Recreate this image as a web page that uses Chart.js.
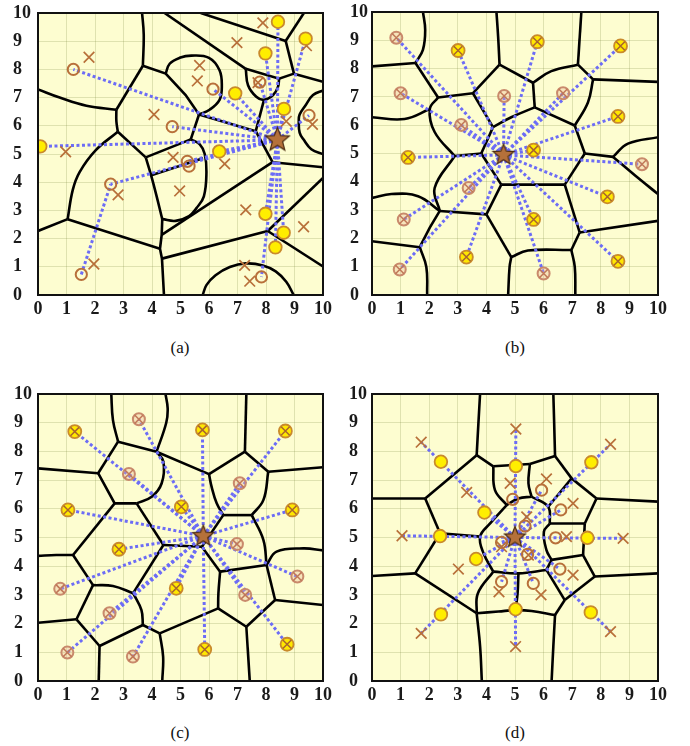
<!DOCTYPE html>
<html>
<head>
<meta charset="utf-8">
<script src="https://cdn.jsdelivr.net/npm/chart.js@4.4.0/dist/chart.umd.min.js"></script>
<style>
  body { margin: 0; background: #fff; width: 690px; height: 746px; position: relative; overflow: hidden; }
  .panel { position: absolute; }
  .caption { position: absolute; font-family: 'Liberation Serif', 'Times New Roman', serif; font-size: 17px; color: #111; transform: translateX(-50%); }
</style>
</head>
<body>
<div class="panel" style="left:13px;top:0;width:325px;height:322px"><canvas id="chartA"></canvas></div>
<div class="panel" style="left:350px;top:0;width:340px;height:322px"><canvas id="chartB"></canvas></div>
<div class="panel" style="left:14px;top:380px;width:324px;height:328px"><canvas id="chartC"></canvas></div>
<div class="panel" style="left:349px;top:380px;width:341px;height:328px"><canvas id="chartD"></canvas></div>
<div class="caption" style="left:180px;top:338px">(a)</div>
<div class="caption" style="left:515px;top:338px">(b)</div>
<div class="caption" style="left:180px;top:723px">(c)</div>
<div class="caption" style="left:515px;top:723px">(d)</div>
<script>
// ---------- panel (a) ----------
const aStar = [8.4, 5.5];
const aYellow = [[0.08,5.27],[8.42,9.69],[9.39,9.09],[7.98,8.57],[6.92,7.15],[8.63,6.60],[6.36,5.09],[7.98,2.88],[8.62,2.21],[8.33,1.69]];
const aHollow = [[1.24,8.0],[6.14,7.30],[7.78,7.55],[4.71,5.97],[5.24,4.74],[5.30,4.57],[2.55,3.93],[9.51,6.37],[1.52,0.73],[7.84,0.64]];
const aCross = [[1.79,8.43],[0.97,5.08],[4.07,6.40],[5.67,8.14],[5.59,7.59],[6.98,8.95],[7.89,9.65],[7.72,7.53],[9.42,8.84],
  [8.71,6.16],[9.63,6.05],[4.74,4.88],[6.55,4.65],[2.81,3.55],[4.97,3.69],[7.29,3.02],[9.32,2.42],[1.96,1.10],[7.25,1.05],[7.43,0.49]];
const aRays = [[0.08,5.27],[8.42,9.69],[9.39,9.09],[7.98,8.57],[6.92,7.15],[8.63,6.60],[6.36,5.09],[7.98,2.88],[8.62,2.21],[8.33,1.69],
  [1.24,8.0],[6.14,7.30],[7.78,7.55],[4.71,5.97],[5.24,4.74],[2.55,3.93],[9.51,6.37],[7.84,0.64]];
const aChain = [[1.52,0.73],[2.55,3.93]];
const aCurves = [
  [[0,7.29],[0.76,7.0],[1.70,6.71],[2.75,6.57]],
  [[3.65,10.02],[3.71,9.24],[3.68,8.13]],
  [[2.75,6.57],[2.75,6.16],[2.80,5.79]],
  [[2.80,5.79],[2.02,5.13],[1.46,4.36],[1.22,3.73],[1.04,2.69]],
  [[3.78,4.88],[3.95,4.31],[4.15,3.55],[4.36,2.69]],
  [[4.48,7.85],[4.62,8.20],[4.97,8.41],[5.38,8.49],[6.0,8.41],[6.37,7.97],[6.45,7.40],[6.37,6.92],[6.02,6.57],[5.65,6.40]],
  [[5.36,5.52],[5.67,5.35],[5.85,5.0],[5.91,4.36],[5.82,3.5],[5.56,3.08],[5.30,2.80],[4.83,2.63],[4.36,2.69]],
  [[7.29,8.02],[7.37,7.44],[7.66,7.03],[7.93,6.92],[8.25,7.09],[8.42,7.38],[8.46,7.67]],
  [[10.02,7.26],[9.65,7.09],[9.39,6.73],[9.18,6.40],[9.15,6.17],[9.18,5.76],[9.32,5.51],[9.59,5.17],[10.02,4.99]],
  [[5.78,0],[5.91,0.35],[6.23,0.70],[6.73,0.99],[7.29,1.12],[7.89,1.05],[8.34,0.84],[8.71,0.47],[8.97,0]]
];
const aLines = [
  [[3.68,8.13],[2.75,6.57]],
  [[2.80,5.79],[3.78,4.88]],
  [[3.78,4.88],[5.36,5.52]],
  [[3.95,4.24],[5.79,4.85]],
  [[5.36,5.52],[5.65,6.40]],
  [[3.68,8.13],[4.48,7.85],[5.18,7.09],[5.65,6.40]],
  [[4.36,2.69],[4.34,2.13],[4.28,1.64],[4.35,1.29],[4.42,0]],
  [[4.34,2.13],[8.23,4.71]],
  [[4.35,1.29],[8.06,2.27]],
  [[8.06,2.27],[10,4.15]],
  [[8.06,2.27],[10,1.01]],
  [[8.23,4.71],[10,4.53]],
  [[8.23,4.71],[7.64,5.81]],
  [[5.65,6.40],[7.64,5.81]],
  [[7.64,5.81],[7.93,6.92]],
  [[7.29,8.02],[8.46,7.67],[8.98,7.85]],
  [[8.98,7.85],[10,7.56]],
  [[8.98,7.85],[8.69,9.01]],
  [[8.69,9.01],[9.33,10]],
  [[8.69,9.01],[5.71,10]],
  [[4.44,10],[7.29,8.02]],
  [[0,2.27],[1.04,2.69]],
  [[1.04,2.69],[4.28,1.64]]
];

// ---------- panel (b) ----------
const bStar = [4.6, 4.95];
const bYellow = [[3.01,8.64],[5.78,8.95],[8.69,8.80],[8.60,6.31],[1.26,4.86],[5.65,5.12],[8.23,3.47],[5.65,2.67],[3.30,1.34],[8.60,1.19]];
const bHollow = [[0.85,9.09],[1.0,7.13],[4.62,7.03],[6.68,7.13],[3.12,6.01],[9.44,4.62],[3.38,3.78],[1.11,2.67],[0.97,0.90],[6.0,0.76]];
const bCurves = [
  [[1.78,10.02],[1.86,9.36],[1.78,8.66],[1.52,8.2]],
  [[4.35,10.02],[4.41,9.13],[4.46,8.14]],
  [[5.63,7.5],[6.27,7.91],[7.20,8.14]],
  [[7.73,7.62],[7.55,6.80],[7.09,5.99]],
  [[4.23,5.93],[4.87,6.28],[5.69,6.63]],
  [[2.31,6.98],[2.02,6.57],[2.19,5.76],[2.89,4.91]],
  [[0,6.28],[1.14,6.22],[2.02,6.57]],
  [[2.89,4.91],[2.19,3.78],[2.37,2.97]],
  [[4.87,1.34],[4.81,0.99],[4.76,0]],
  [[4.87,1.34],[5.45,1.57],[6.97,1.59]],
  [[6.97,1.59],[7.09,0.99],[7.11,0]],
  [[8.43,4.88],[8.95,5.35],[10.02,5.58]],
  [[8.43,4.88],[9.18,4.24],[10.02,3.55]],
  [[0,3.43],[0.68,3.57],[1.61,3.49],[2.37,2.97]],
  [[1.67,1.69],[1.90,0.99],[1.93,0]]
];
const bLines = [
  [[0,8.08],[1.52,8.2]], [[1.52,8.2],[2.31,6.98]], [[2.31,6.98],[3.53,7.13]], [[3.53,7.13],[4.23,5.93]],
  [[3.53,7.13],[4.46,8.14]], [[4.46,8.14],[5.63,7.5]], [[5.63,7.5],[5.69,6.63]], [[7.20,8.14],[7.32,10]],
  [[7.20,8.14],[7.73,7.62]], [[7.73,7.62],[10,7.53]], [[5.69,6.63],[7.09,5.99]], [[7.09,5.99],[7.44,5.0]],
  [[7.44,5.0],[8.43,4.88]], [[7.44,5.0],[6.74,3.90]], [[6.74,3.90],[4.52,3.90]], [[4.52,3.90],[3.82,5.0]],
  [[3.82,5.0],[4.23,5.93]], [[3.82,5.0],[2.89,4.91]], [[4.52,3.90],[4.0,2.85]], [[2.37,2.97],[4.0,2.85]],
  [[4.0,2.85],[4.87,1.34]], [[6.97,1.59],[7.26,2.21]], [[7.26,2.21],[6.74,3.90]], [[7.26,2.21],[10,2.62]],
  [[0,1.90],[1.67,1.69]], [[1.67,1.69],[2.02,2.38],[2.37,2.97]]
];

// ---------- panel (c) ----------
const cStar = [5.8, 5.05];
const cYellow = [[1.29,8.69],[5.77,8.75],[8.68,8.71],[5.03,6.07],[1.05,5.96],[8.92,5.96],[2.84,4.59],[4.85,3.23],[8.74,1.28],[5.85,1.10]];
const cHollow = [[3.54,9.12],[3.19,7.21],[7.08,6.89],[6.98,4.77],[9.10,3.64],[0.78,3.21],[7.27,3.0],[2.51,2.36],[1.03,0.99],[3.33,0.85]];
const cCurves = [
  [[2.57,10.02],[2.63,9.09],[2.81,8.34]],
  [[4.47,10.02],[4.55,9.5],[4.50,9.0],[4.16,7.99]],
  [[4.16,7.99],[4.40,7.64],[4.34,6.89],[3.99,6.42],[3.46,6.19]],
  [[1.93,3.34],[2.63,3.31],[3.34,3.06]],
  [[3.34,3.06],[3.63,2.47],[3.68,1.95]],
  [[0,4.36],[0.64,4.39],[1.23,4.39]],
  [[4.27,1.66],[4.39,0.85],[4.36,0]],
  [[6.39,3.81],[6.33,3.05],[6.32,2.53]],
  [[6.0,7.21],[6.09,6.77],[6.27,6.19],[6.50,5.78]],
  [[8.08,7.29],[7.91,6.31],[7.50,5.78]],
  [[7.50,5.78],[7.91,4.91],[8.02,4.04]],
  [[8.02,4.04],[8.37,4.51],[9.31,4.62],[10.02,4.55]]
];
const cLines = [
  [[0,7.41],[2.11,7.24]], [[2.11,7.24],[2.81,8.34]], [[2.81,8.34],[4.16,7.99],[6.0,7.21]],
  [[2.11,7.24],[2.69,6.19],[3.46,6.19]], [[3.46,6.19],[4.40,4.74]], [[4.40,4.74],[5.75,4.68]],
  [[4.40,4.74],[3.34,3.06]], [[2.69,6.19],[1.23,4.39]], [[1.23,4.39],[1.93,3.34]], [[1.93,3.34],[1.35,2.15]],
  [[0,2.03],[1.35,2.15]], [[1.35,2.15],[2.16,1.22]], [[2.16,1.22],[2.13,0]], [[2.16,1.22],[3.68,1.95]],
  [[3.68,1.95],[4.27,1.66]], [[4.27,1.66],[6.32,2.53]], [[6.39,3.81],[8.02,4.04]], [[6.39,3.81],[5.75,4.68]],
  [[6.50,5.78],[5.75,4.68]], [[6.0,7.21],[7.26,7.99]], [[7.26,7.99],[7.31,10]], [[7.26,7.99],[8.08,7.29]],
  [[8.08,7.29],[10,7.45]], [[7.50,5.78],[6.50,5.78]], [[8.02,4.04],[8.32,2.82]], [[8.32,2.82],[10,2.65]],
  [[8.32,2.82],[7.31,1.89]], [[7.31,1.89],[7.43,0]], [[7.31,1.89],[6.32,2.53]]
];

// ---------- panel (d) ----------
const dStar = [5.0, 5.0];
const dYellow = [[2.41,7.64],[5.03,7.49],[7.67,7.62],[3.93,5.87],[2.38,5.05],[7.53,4.99],[3.64,4.25],[2.41,2.32],[5.02,2.50],[7.65,2.39]];
const dOuterCross = [[1.72,8.32],[5.03,8.78],[8.34,8.25],[1.05,5.06],[8.78,4.97],[1.72,1.66],[5.02,1.20],[8.34,1.72]];
const dInnerCross = [[4.83,6.89],[6.10,7.04],[3.31,6.57],[7.03,6.19],[5.41,5.72],[6.80,5.03],[4.53,4.68],[5.47,4.39],
  [3.02,3.90],[7.03,3.69],[4.44,3.11],[5.91,3.0]];
const dHollow = [[4.92,6.33],[5.93,6.65],[6.60,5.96],[5.35,5.40],[6.42,4.99],[4.53,4.83],[5.44,4.41],[6.57,3.90],[4.53,3.46],[5.64,3.40]];
const dRays = [[1.72,8.32],[5.03,8.78],[8.34,8.25],[1.05,5.06],[8.78,4.97],[1.72,1.66],[5.02,1.20],[8.34,1.72],
  [3.93,5.87],[3.64,4.25],[5.93,6.65],[6.60,5.96],[6.57,3.90],[4.53,3.46],[5.64,3.40],[4.53,4.83]];
const dCurves = [
  [[3.78,10.02],[3.72,8.97],[3.66,7.87]],
  [[3.66,2.36],[3.78,1.20],[3.84,0]],
  [[3.66,2.36],[4.42,2.42],[5.02,2.47],[5.58,2.44],[6.40,2.30]],
  [[6.40,2.30],[6.34,1.20],[6.28,0]],
  [[6.40,7.84],[6.37,8.97],[6.34,10.02]],
  [[4.24,7.48],[4.30,6.65],[4.71,6.13]],
  [[5.52,7.56],[5.47,6.89],[5.58,6.42]],
  [[4.71,6.13],[5.12,6.36],[5.58,6.42]],
  [[5.58,6.42],[6.16,6.07],[6.22,5.49]],
  [[6.22,5.49],[6.01,5.20],[6.10,4.56],[6.28,4.22]],
  [[6.10,3.87],[5.12,3.75],[4.24,3.81]],
  [[5.12,3.75],[5.09,3.05],[5.02,2.47]],
  [[4.24,3.81],[3.70,3.05],[3.66,2.36]],
  [[4.24,3.81],[3.90,4.45],[3.78,5.03],[4.13,5.49],[4.71,6.13]]
];
const dLines = [
  [[0,6.36],[1.86,6.36]], [[1.86,6.36],[3.66,7.87]], [[1.86,6.36],[2.38,5.15]], [[2.38,5.15],[1.51,3.75]],
  [[0,3.66],[1.51,3.75]], [[1.51,3.75],[3.66,2.36]], [[6.40,2.30],[6.74,2.82]], [[6.74,2.82],[7.79,3.64]],
  [[7.79,3.64],[10,3.75]], [[7.79,3.64],[7.38,4.39]], [[7.38,4.39],[7.44,5.49]], [[7.44,5.49],[7.85,6.36]],
  [[7.85,6.36],[10,6.25]], [[7.85,6.36],[6.98,7.06]], [[6.98,7.06],[6.40,7.84]], [[3.66,7.87],[4.24,7.48]],
  [[4.24,7.48],[5.52,7.56]], [[5.52,7.56],[6.40,7.84]], [[6.98,7.06],[6.16,6.07]], [[6.22,5.49],[7.44,5.49]],
  [[6.28,4.22],[7.38,4.39]], [[6.28,4.22],[6.10,3.87]], [[6.10,3.87],[6.74,2.82]], [[2.38,5.15],[3.78,5.03]]
];

const ticks = [0,1,2,3,4,5,6,7,8,9,10];

const brown = '#b8703a';
const dashBlue = '#6c6cf6';
const panelBg = '#fdfdd0';
const gridColor = 'rgba(120,130,60,0.22)';

function toXY(list) {
  return list.map(p => ({ x: p[0], y: p[1] }));
}

function makeStar(r) {
  const c = document.createElement('canvas');
  const s = Math.ceil(r * 2 + 4);
  c.width = s;
  c.height = s;
  const g = c.getContext('2d');
  g.beginPath();
  for (let i = 0; i < 10; i++) {
    const rad = i % 2 === 0 ? r : r * 0.43;
    const a = -Math.PI / 2 + i * Math.PI / 5;
    const px = s / 2 + rad * Math.cos(a);
    const py = s / 2 + rad * Math.sin(a);
    if (i === 0) g.moveTo(px, py); else g.lineTo(px, py);
  }
  g.closePath();
  g.fillStyle = '#b5713a';
  g.fill();
  g.lineWidth = 1.2;
  g.strokeStyle = '#4a2a10';
  g.stroke();
  return c;
}

const framePlugin = {
  id: 'panelFrame',
  beforeDraw(chart) {
    const a = chart.chartArea, ctx = chart.ctx;
    ctx.save();
    ctx.fillStyle = panelBg;
    ctx.fillRect(a.left, a.top, a.right - a.left, a.bottom - a.top);
    ctx.restore();
  },
  afterDraw(chart) {
    const a = chart.chartArea, ctx = chart.ctx;
    ctx.save();
    ctx.strokeStyle = '#111';
    ctx.lineWidth = 2;
    ctx.strokeRect(a.left, a.top, a.right - a.left, a.bottom - a.top);
    ctx.restore();
  }
};

function edgeSet(list, tension) {
  return { data: toXY(list), showLine: true, borderColor: '#000', borderWidth: 2.6, pointRadius: 0, tension: tension, order: 40 };
}

function dashSet(list) {
  return { data: toXY(list), showLine: true, borderColor: dashBlue, borderWidth: 3, borderDash: [3, 2.5], pointRadius: 0, order: 30 };
}

function markSet(list, style, order) {
  return Object.assign({ data: toXY(list), showLine: false, order: order }, style);
}

const yellowDot = { pointStyle: 'circle', pointRadius: 6.3, pointBackgroundColor: '#ffee00', pointBorderColor: '#c98a2c', pointBorderWidth: 1.8 };
const hollowDot = { pointStyle: 'circle', pointRadius: 5.6, pointBackgroundColor: 'rgba(0,0,0,0)', pointBorderColor: brown, pointBorderWidth: 2 };
const crossMark = { pointStyle: 'crossRot', pointRadius: 7.5, pointBorderColor: brown, pointBorderWidth: 1.7 };
const ringYellow = { pointStyle: 'circle', pointRadius: 6.5, pointBackgroundColor: '#ffe800', pointBorderColor: '#c98a2c', pointBorderWidth: 1.8 };
const ringPink = { pointStyle: 'circle', pointRadius: 6, pointBackgroundColor: 'rgba(235,180,150,0.35)', pointBorderColor: '#c98a6c', pointBorderWidth: 2 };
const innerCrossBrown = { pointStyle: 'crossRot', pointRadius: 6, pointBorderColor: '#a8642e', pointBorderWidth: 1.5 };
const innerCrossPink = { pointStyle: 'crossRot', pointRadius: 6, pointBorderColor: '#c07858', pointBorderWidth: 1.5 };

function makeChart(id, box, datasets) {
  const tickFont = { family: "'Liberation Serif', 'Times New Roman', serif", size: 18, weight: 'bold' };
  return new Chart(document.getElementById(id), {
    type: 'scatter',
    data: { datasets: datasets },
    options: {
      responsive: true,
      maintainAspectRatio: false,
      animation: false,
      events: [],
      layout: { padding: { top: box.padTop, right: box.padRight, left: 0, bottom: 0 } },
      plugins: { legend: { display: false }, tooltip: { enabled: false } },
      scales: {
        x: {
          type: 'linear', min: 0, max: 10,
          afterBuildTicks: s => { s.ticks = ticks.map(v => ({ value: v })); },
          ticks: { font: tickFont, color: '#1a1a1a', padding: 4 },
          grid: { color: gridColor, drawTicks: false },
          border: { display: false },
          afterFit: s => { s.height = box.xh; s.paddingLeft = 0; s.paddingRight = 0; }
        },
        y: {
          type: 'linear', min: 0, max: 10,
          afterBuildTicks: s => { s.ticks = ticks.map(v => ({ value: v })); },
          ticks: { font: tickFont, color: '#1a1a1a', padding: 2, crossAlign: 'far' },
          grid: { color: gridColor, drawTicks: false },
          border: { display: false },
          afterFit: s => { s.width = box.yw; s.paddingTop = 0; s.paddingBottom = 0; }
        }
      }
    },
    plugins: [framePlugin]
  });
}

function basePanel(curves, lines, rays, star, chains) {
  const ds = [];
  curves.forEach(c => ds.push(edgeSet(c, 0.4)));
  lines.forEach(l => ds.push(edgeSet(l, 0)));
  rays.forEach(t => ds.push(dashSet([star, t])));
  chains.forEach(c => ds.push(dashSet(c)));
  return ds;
}

const starBig = makeStar(12.5);
const starMid = makeStar(11);

// (a)
const dsA = basePanel(aCurves, aLines, aRays, aStar, [aChain]);
dsA.push(markSet(aCross, crossMark, 22));
dsA.push(markSet(aHollow, hollowDot, 21));
dsA.push(markSet(aYellow, yellowDot, 20));
dsA.push(markSet([aStar], { pointStyle: starBig, pointRadius: 12 }, 1));
makeChart('chartA', { padTop: 8, padRight: 15, yw: 25, xh: 27 }, dsA);

// (b)
const dsB = basePanel(bCurves, bLines, bYellow.concat(bHollow), bStar, []);
dsB.push(markSet(bYellow, ringYellow, 21));
dsB.push(markSet(bYellow, innerCrossBrown, 20));
dsB.push(markSet(bHollow, ringPink, 21));
dsB.push(markSet(bHollow, innerCrossPink, 20));
dsB.push(markSet([bStar], { pointStyle: starMid, pointRadius: 11 }, 1));
makeChart('chartB', { padTop: 8, padRight: 32, yw: 22, xh: 27 }, dsB);

// (c)
const dsC = basePanel(cCurves, cLines, cYellow.concat(cHollow), cStar, []);
dsC.push(markSet(cYellow, ringYellow, 21));
dsC.push(markSet(cYellow, innerCrossBrown, 20));
dsC.push(markSet(cHollow, ringPink, 21));
dsC.push(markSet(cHollow, innerCrossPink, 20));
dsC.push(markSet([cStar], { pointStyle: starMid, pointRadius: 11 }, 1));
makeChart('chartC', { padTop: 14, padRight: 15, yw: 24, xh: 27 }, dsC);

// (d)
const dsD = basePanel(dCurves, dLines, dRays, dStar, []);
dsD.push(markSet(dOuterCross.concat(dInnerCross), crossMark, 22));
dsD.push(markSet(dHollow, hollowDot, 21));
dsD.push(markSet(dYellow, yellowDot, 20));
dsD.push(markSet([dStar], { pointStyle: starMid, pointRadius: 11 }, 1));
makeChart('chartD', { padTop: 14, padRight: 32, yw: 23, xh: 27 }, dsD);
</script>
</body>
</html>
